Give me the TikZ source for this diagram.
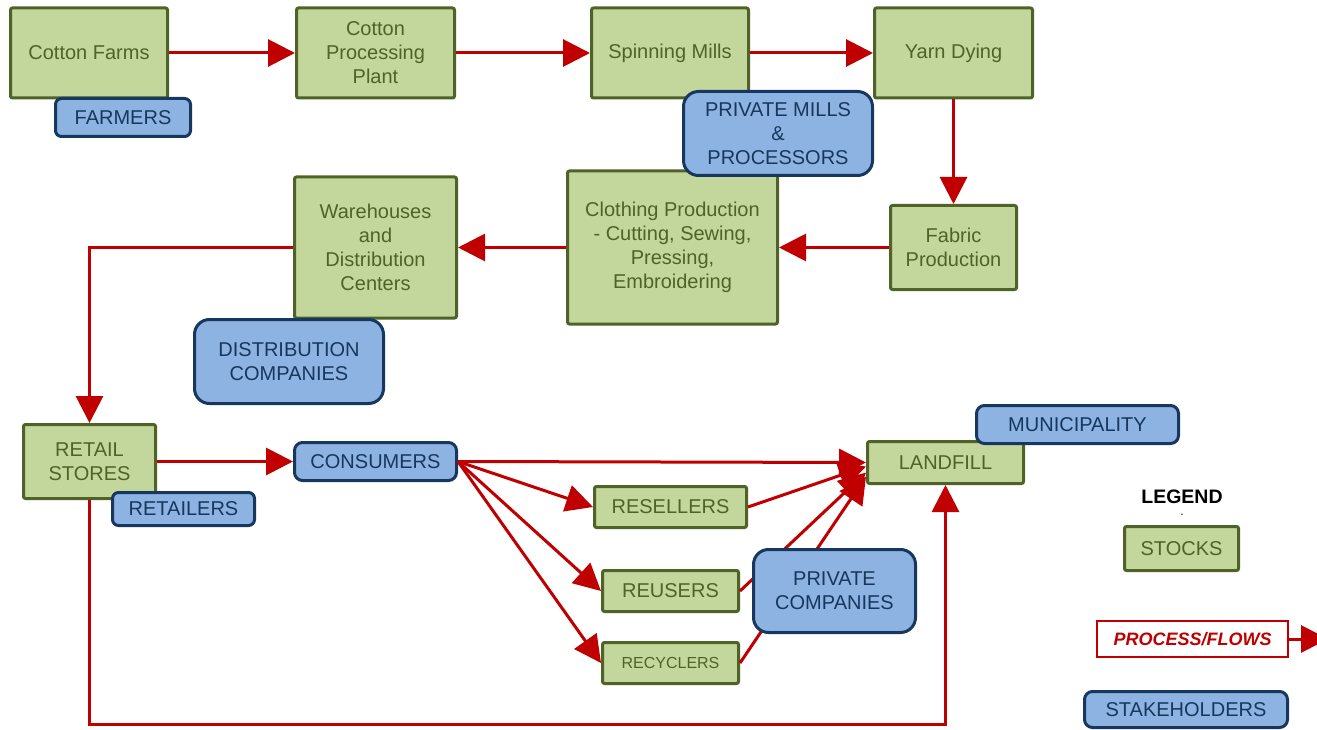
\documentclass[tikz,border=0pt]{standalone}
\usepackage{fontspec}
\setmainfont{Liberation Sans}
\usetikzlibrary{arrows.meta}
\definecolor{stockfill}{HTML}{C3D69B}
\definecolor{stockline}{HTML}{4F6228}
\definecolor{holderfill}{HTML}{8DB3E2}
\definecolor{holderline}{HTML}{17375E}
\definecolor{flowred}{HTML}{C00000}
\tikzset{
  stock/.style={draw=stockline, fill=stockfill, line width=3pt, rounded corners=2pt,
    text=stockline, align=center, inner sep=0pt, font=\fontsize{20}{24}\selectfont},
  holder/.style={draw=holderline, fill=holderfill, line width=3pt, rounded corners=8pt,
    text=holderline, align=center, inner sep=0pt, font=\fontsize{20}{24}\selectfont},
  bigholder/.style={holder, rounded corners=15pt},
  flow/.style={draw=flowred, line width=3pt, -{Triangle[length=27pt,width=27pt]}},
}
\begin{document}
\begin{tikzpicture}[x=1pt,y=-1pt]
\useasboundingbox (0,0) rectangle (1317,730);
\node[stock,minimum width=157pt,minimum height=90pt] (farms) at (89,53) {Cotton Farms};
\node[stock,minimum width=158pt,minimum height=90pt] (processing) at (375.5,53) {Cotton\\Processing\\Plant};
\node[stock,minimum width=157pt,minimum height=90pt] (spinning) at (670,53) {Spinning Mills};
\node[stock,minimum width=158pt,minimum height=90pt] (yarn) at (953.5,53) {Yarn Dying};
\node[stock,minimum width=126pt,minimum height=84pt] (fabric) at (953.5,247.5) {Fabric\\Production};
\node[stock,minimum width=210pt,minimum height=153pt] (clothing) at (672.5,247.5) {Clothing Production\\- Cutting, Sewing,\\Pressing,\\Embroidering};
\node[stock,minimum width=162pt,minimum height=141pt] (warehouses) at (375.5,247.5) {Warehouses\\and\\Distribution\\Centers};
\node[stock,minimum width=132pt,minimum height=74pt] (retail) at (89.5,461.5) {RETAIL\\STORES};
\node[stock,minimum width=156pt,minimum height=42pt] (landfill) at (945.5,462.5) {LANDFILL};
\node[stock,minimum width=152pt,minimum height=41pt] (resellers) at (670.5,507) {RESELLERS};
\node[stock,minimum width=136pt,minimum height=41pt] (reusers) at (670.5,591) {REUSERS};
\node[stock,minimum width=136pt,minimum height=41pt,font=\fontsize{16}{20}\selectfont] (recyclers) at (670.5,663) {RECYCLERS};
\coordinate (bottomrun) at (500,724);
\draw[flow] (farms) -- (processing);
\draw[flow] (processing) -- (spinning);
\draw[flow] (spinning) -- (yarn);
\draw[flow] (yarn) -- (fabric);
\draw[flow] (fabric) -- (clothing);
\draw[flow] (clothing) -- (warehouses);
\draw[flow] (warehouses.west) -| (retail.north);
\draw[flow] (retail.south) |- (bottomrun) -| (landfill.south);
\node[holder,minimum width=162pt,minimum height=38pt] (consumers) at (375.5,461.5) {CONSUMERS};
\draw[flow] (retail) -- (consumers);
\draw[flow] (consumers.east) -- (landfill.west);
\draw[flow] (consumers.east) -- (resellers.west);
\draw[flow] (consumers.east) -- (reusers.west);
\draw[flow] (consumers.east) -- (recyclers.west);
\draw[flow] (resellers.east) -- ([yshift=-4pt]landfill.west);
\draw[flow] (reusers.east) -- ([yshift=-10pt]landfill.west);
\draw[flow] (recyclers.east) -- ([yshift=-14pt]landfill.west);
\node[holder,minimum width=135pt,minimum height=38pt,rounded corners=6pt] (farmers) at (123,117.5) {FARMERS};
\node[bigholder,minimum width=189pt,minimum height=84pt] (mills) at (778,133.5) {PRIVATE MILLS\\\&\\PROCESSORS};
\node[bigholder,minimum width=189pt,minimum height=84pt] (distribution) at (289,361.5) {DISTRIBUTION\\COMPANIES};
\node[holder,minimum width=142pt,minimum height=33pt,rounded corners=6pt] (retailers) at (183.5,509) {RETAILERS};
\node[holder,minimum width=202pt,minimum height=38pt] (municipality) at (1077.5,424.5) {MUNICIPALITY};
\node[bigholder,minimum width=162pt,minimum height=83pt] (privcomp) at (834.5,591) {PRIVATE\\COMPANIES};
\node[font=\bfseries\fontsize{19.5}{24}\selectfont] (legend) at (1182,497) {LEGEND};
\node[font=\fontsize{12}{14}\selectfont,inner sep=0pt] (legenddot) at (1182,515) {.};
\node[stock,minimum width=114pt,minimum height=44pt] (stocks) at (1181.5,548.5) {STOCKS};
\node[draw=flowred,fill=white,line width=2pt,text=flowred,inner sep=0pt,
  font=\bfseries\itshape\fontsize{18}{22}\selectfont,minimum width=191pt,minimum height=36pt] (process) at (1192.5,639) {PROCESS/FLOWS};
\coordinate (legendtip) at (1328,639);
\draw[flow] (process) -- (legendtip);
\node[holder,minimum width=203pt,minimum height=36pt] (stakeholders) at (1186,709.5) {STAKEHOLDERS};
\end{tikzpicture}
\end{document}
